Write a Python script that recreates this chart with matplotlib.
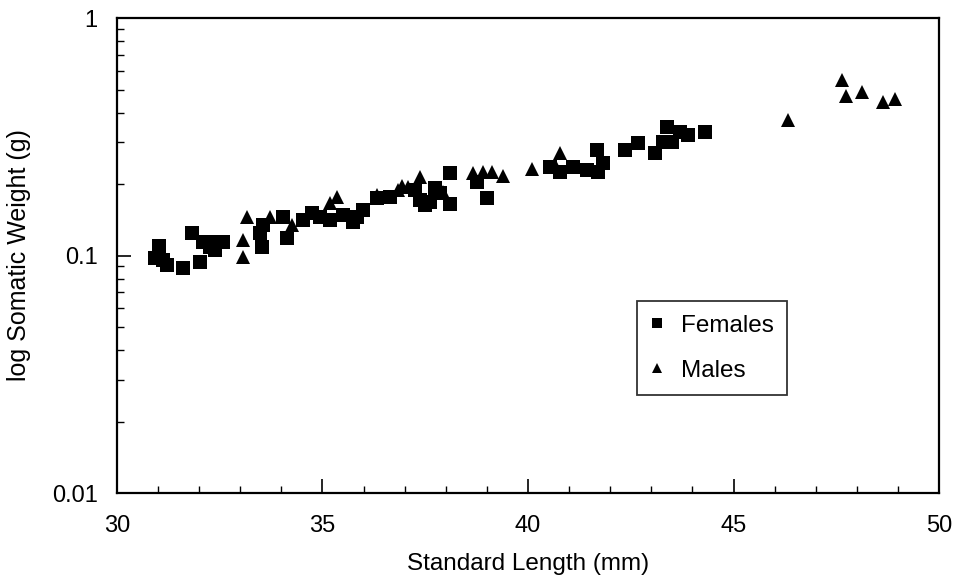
import matplotlib
matplotlib.use("Agg")
import matplotlib.pyplot as plt
from matplotlib.ticker import FixedLocator, MultipleLocator, LogLocator, NullFormatter

plt.rcParams['font.family'] = ['Liberation Sans', 'DejaVu Sans']

# Females (squares)
fem_len = [30.92, 31.02, 31.12, 31.22, 31.61, 31.82, 32.02, 32.09, 32.26, 32.43, 32.58, 32.38,
           33.48, 33.53, 33.55, 34.04, 34.14, 34.53, 34.74, 34.94, 35.18, 35.50, 35.84, 35.99,
           35.74, 36.33, 36.64, 37.37, 37.62, 37.86, 38.10, 38.10, 38.76, 39.00, 37.25, 37.74,
           37.49, 40.54, 40.78, 41.09, 41.44, 41.68, 41.82, 41.70, 42.36, 42.68, 43.09, 43.38,
           43.28, 43.50, 43.70, 43.89, 44.31]
fem_wt = [0.0976, 0.110, 0.0958, 0.0912, 0.0886, 0.124, 0.0939, 0.114, 0.109, 0.114, 0.114, 0.105,
          0.124, 0.109, 0.134, 0.145, 0.119, 0.141, 0.151, 0.145, 0.141, 0.148, 0.145, 0.155,
          0.138, 0.175, 0.176, 0.171, 0.168, 0.183, 0.222, 0.165, 0.204, 0.175, 0.188, 0.192,
          0.163, 0.236, 0.225, 0.236, 0.229, 0.278, 0.245, 0.225, 0.278, 0.298, 0.270, 0.348,
          0.301, 0.301, 0.331, 0.322, 0.331]

# Males (triangles)
male_len = [33.07, 33.07, 33.16, 33.72, 34.26, 35.18, 35.35, 36.33, 37.08, 37.37, 37.93, 38.66,
            38.91, 39.12, 39.39, 40.10, 40.66, 40.78, 46.33, 47.64, 47.74, 48.13, 48.64, 48.93,
            36.84, 36.93]
male_wt = [0.0986, 0.116, 0.145, 0.145, 0.134, 0.166, 0.176, 0.180, 0.194, 0.214, 0.185, 0.222,
           0.225, 0.225, 0.216, 0.231, 0.240, 0.270, 0.372, 0.548, 0.469, 0.488, 0.443, 0.456,
           0.189, 0.196]

x_ticks = [30, 35, 40, 45, 50]
y_ticks = [0.01, 0.1, 1]
y_tick_labels = ['0.01', '0.1', '1']

fig = plt.figure(figsize=(9.66, 5.79), dpi=100)
ax = fig.add_axes([0.1211, 0.1485, 0.851, 0.8204])

ax.plot(fem_len, fem_wt, linestyle='none', marker='s', markersize=9.5, color='black',
        markeredgewidth=0, label='Females')
ax.plot(male_len, male_wt, linestyle='none', marker='^', markersize=9.5, color='black',
        markeredgewidth=0, label='Males')

ax.set_yscale('log')
ax.set_xlim(30, 50)
ax.set_ylim(0.01, 1)
ax.xaxis.set_major_locator(FixedLocator(x_ticks))
ax.xaxis.set_minor_locator(MultipleLocator(1))
ax.set_xticklabels([str(t) for t in x_ticks])
ax.yaxis.set_major_locator(FixedLocator(y_ticks))
ax.set_yticklabels(y_tick_labels)
ax.yaxis.set_minor_locator(LogLocator(base=10, subs=range(2, 10)))
ax.yaxis.set_minor_formatter(NullFormatter())

ax.tick_params(axis='both', which='major', direction='in', length=10, width=1.2,
               labelsize=17, top=False, right=False)
ax.tick_params(axis='both', which='minor', direction='in', length=5, width=1,
               top=False, right=False)
ax.tick_params(axis='x', which='major', pad=16)
ax.tick_params(axis='y', which='major', pad=14)
for s in ax.spines.values():
    s.set_linewidth(1.6)
    s.set_color('black')

ax.set_xlabel('Standard Length (mm)', fontsize=17.5, labelpad=11)
ax.set_ylabel('log Somatic Weight (g)', fontsize=18, labelpad=15)

leg = ax.legend(loc='lower left', bbox_to_anchor=(0.633, 0.206), borderaxespad=0,
                fontsize=17.5, frameon=True, fancybox=False, edgecolor='black',
                handlelength=0.5, handletextpad=0.75, borderpad=0.55, labelspacing=0.95,
                markerscale=0.75)
leg.get_frame().set_linewidth(1.3)

fig.savefig('out.png', dpi=100)
